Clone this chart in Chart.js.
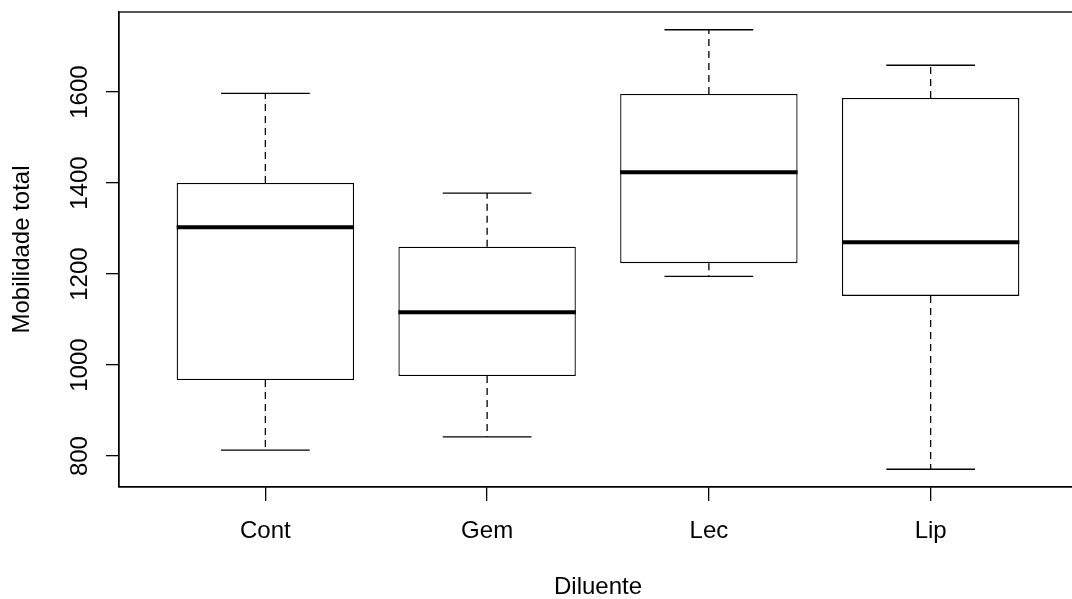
<!DOCTYPE html>
<html>
<head>
<meta charset="utf-8">
<script src="https://cdn.jsdelivr.net/npm/chart.js@4/dist/chart.umd.min.js"></script>
<style>
  html, body { margin: 0; padding: 0; background: #fff; overflow: hidden; }
  #wrap { position: absolute; left: 0; top: 0; width: 1090px; height: 599px; }
</style>
</head>
<body>
<div id="wrap"><canvas id="boxChart"></canvas></div>
<script>
// Dados (boxplot por diluente)
const categories = ['Cont', 'Gem', 'Lec', 'Lip'];
const lowerWhisker = [813, 842, 1195, 771];
const firstQuartile = [967, 976, 1224, 1152];
const medians = [1303, 1116, 1424, 1270];
const thirdQuartile = [1400, 1260, 1596, 1587];
const upperWhisker = [1597, 1378, 1737, 1659];
const yTicks = [800, 1000, 1200, 1400, 1600];

// Caixas como barras flutuantes [Q1, Q3]
const boxData = categories.map((c, i) => ({ x: i + 1, y: [firstQuartile[i], thirdQuartile[i]] }));

// Bigodes tracejados, hastes e medianas (segmentos separados por null)
const whiskerData = [];
const capData = [];
const medianData = [];
categories.forEach((c, i) => {
  const x = i + 1;
  whiskerData.push({ x: x, y: thirdQuartile[i] }, { x: x, y: upperWhisker[i] }, { x: x, y: null });
  whiskerData.push({ x: x, y: firstQuartile[i] }, { x: x, y: lowerWhisker[i] }, { x: x, y: null });
  capData.push({ x: x - 0.2, y: upperWhisker[i] }, { x: x + 0.2, y: upperWhisker[i] }, { x: x, y: null });
  capData.push({ x: x - 0.2, y: lowerWhisker[i] }, { x: x + 0.2, y: lowerWhisker[i] }, { x: x, y: null });
  medianData.push({ x: x - 0.4, y: medians[i] }, { x: x + 0.4, y: medians[i] }, { x: x, y: null });
});

Chart.defaults.font.family = '"Liberation Sans", Arial, sans-serif';
Chart.defaults.font.size = 24;
Chart.defaults.color = '#000';

// Moldura do gráfico (como box() do R)
const frame = {
  id: 'frame',
  afterDraw(chart) {
    const a = chart.chartArea;
    const ctx = chart.ctx;
    ctx.save();
    ctx.strokeStyle = '#000';
    ctx.lineWidth = 1.3;
    ctx.strokeRect(a.left, a.top, a.right - a.left, a.bottom - a.top);
    ctx.restore();
  }
};

const lineStyle = {
  type: 'line',
  borderColor: '#000',
  pointRadius: 0,
  tension: 0,
  spanGaps: false,
  fill: false,
  borderCapStyle: 'butt'
};

new Chart(document.getElementById('boxChart'), {
  data: {
    datasets: [
      {
        type: 'bar',
        data: boxData,
        backgroundColor: '#fff',
        borderColor: '#000',
        borderWidth: 1.3,
        borderSkipped: false,
        barPercentage: 0.8,
        categoryPercentage: 1,
        order: 3
      },
      Object.assign({}, lineStyle, { data: whiskerData, borderWidth: 1.3, borderDash: [7, 5], order: 2 }),
      Object.assign({}, lineStyle, { data: capData, borderWidth: 1.3, order: 1 }),
      Object.assign({}, lineStyle, { data: medianData, borderWidth: 4, order: 0 })
    ]
  },
  options: {
    responsive: true,
    maintainAspectRatio: false,
    animation: false,
    layout: { padding: { left: 0, top: 12, right: 13, bottom: 0 } },
    plugins: { legend: { display: false }, tooltip: { enabled: false } },
    scales: {
      x: {
        type: 'linear',
        min: 0.34,
        max: 4.66,
        offset: false,
        afterBuildTicks: (scale) => { scale.ticks = categories.map((c, i) => ({ value: i + 1 })); },
        afterFit: (scale) => {
          scale.height = 112;
          scale.paddingLeft = 0;
          scale.paddingRight = 0;
        },
        ticks: {
          callback: (v) => categories[v - 1],
          padding: 16,
          maxRotation: 0,
          autoSkip: false
        },
        grid: { offset: false, drawOnChartArea: false, drawTicks: true, tickLength: 14, color: '#000', lineWidth: 1.3 },
        border: { display: true, color: '#000', width: 1.3 },
        title: { display: true, text: 'Diluente', font: { size: 24, lineHeight: 1 }, padding: { top: 0, bottom: 0 } }
      },
      y: {
        type: 'linear',
        min: 732,
        max: 1776,
        afterBuildTicks: (scale) => { scale.ticks = yTicks.map(v => ({ value: v })); },
        afterFit: (scale) => {
          scale.width = 119;
          scale.paddingTop = 0;
          scale.paddingBottom = 0;
        },
        ticks: {
          callback: (v) => String(v),
          minRotation: 90,
          maxRotation: 90,
          crossAlign: 'center',
          padding: -1,
          autoSkip: false
        },
        grid: { drawOnChartArea: false, drawTicks: true, tickLength: 13, color: '#000', lineWidth: 1.3 },
        border: { display: true, color: '#000', width: 1.3 },
        title: { display: true, text: 'Mobilidade total', font: { size: 24, lineHeight: 1 }, padding: { top: 10, bottom: 0 } }
      }
    }
  },
  plugins: [frame]
});
</script>
</body>
</html>
